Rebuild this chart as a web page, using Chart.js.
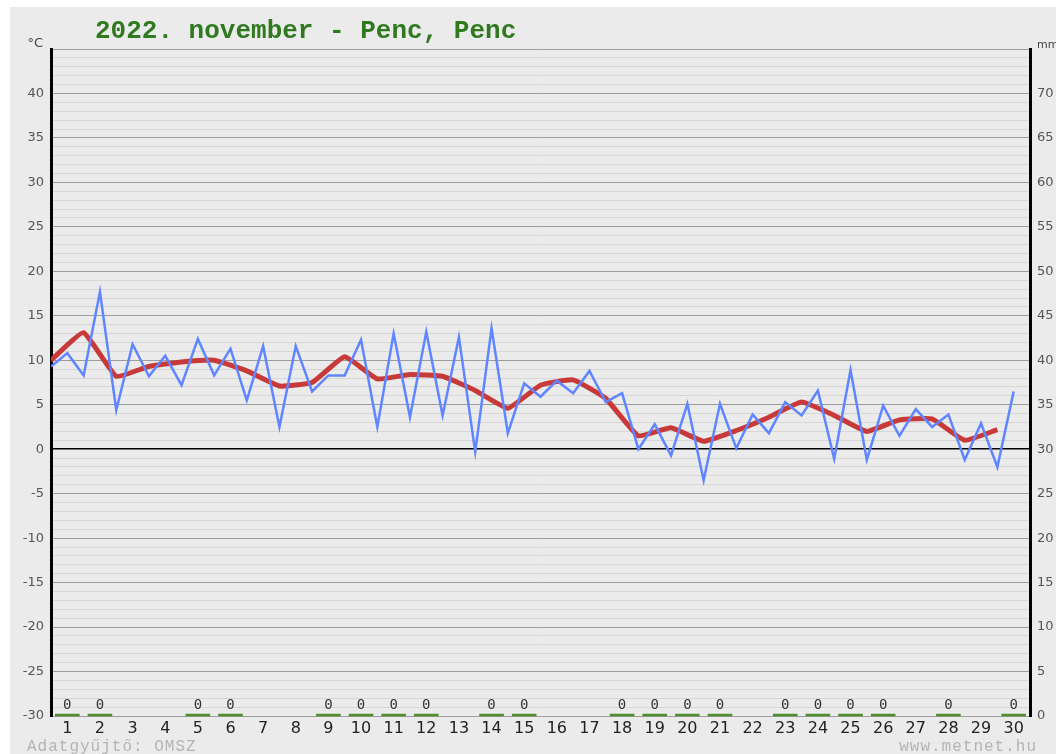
<!DOCTYPE html>
<html lang="hu">
<head>
<meta charset="UTF-8">
<title>2022. november - Penc, Penc</title>
<script src="https://cdn.jsdelivr.net/npm/chart.js"></script>
<style>
  body { margin: 0; background: #fff; }
  .box { position: absolute; left: 10px; top: 7px; width: 1046px; height: 747px; background: #ebebeb; overflow: hidden; }
</style>
</head>
<body>
<div class="box">
  <canvas id="grafikon" width="1046" height="747"></canvas>
</div>
<script>
// napok
const days = [1,2,3,4,5,6,7,8,9,10,11,12,13,14,15,16,17,18,19,20,21,22,23,24,25,26,27,28,29,30];

// félnapos hőmérsékletek (kék vonal), °C
const halfDayTemps = [
  9.3, 10.8, 8.3, 17.7, 4.4, 11.8, 8.2, 10.5, 7.2, 12.4,
  8.3, 11.3, 5.5, 11.6, 2.5, 11.6, 6.5, 8.3, 8.3, 12.3,
  2.5, 13.0, 3.6, 13.2, 3.8, 12.6, -0.3, 13.6, 1.8, 7.4,
  5.9, 7.7, 6.3, 8.8, 5.3, 6.3, 0.0, 2.8, -0.7, 5.1,
  -3.5, 5.1, 0.1, 3.9, 1.8, 5.3, 3.8, 6.6, -1.1, 8.9,
  -1.2, 4.9, 1.5, 4.5, 2.5, 3.9, -1.2, 2.9, -2.0, 6.5
];

// napi középhőmérséklet (piros vonal), °C
const dailyMean = [
  10.0, 13.1, 8.2, 9.3, 9.8, 10.0, 8.8, 7.1, 7.5, 10.4,
  7.9, 8.4, 8.2, 6.6, 4.6, 7.2, 7.8, 5.7, 1.5, 2.4,
  0.9, 2.1, 3.6, 5.3, 3.8, 2.0, 3.3, 3.4, 1.0, 2.2
];

// csapadék, mm (null = nincs adat)
const precip = [
  0, 0, null, null, 0, 0, null, null, 0, 0,
  0, 0, null, 0, 0, null, null, 0, 0, 0,
  0, null, 0, 0, 0, 0, null, 0, null, 0
];

const tempTicks = [];
for (let t = -30; t <= 45; t++) tempTicks.push(t);

const blueData = halfDayTemps.map((v, i) => ({ x: i / 2, y: v }));
const redData = dailyMean.map((v, i) => ({ x: i, y: v }));

const feliratok = {
  id: 'feliratok',
  afterDraw(chart) {
    const ctx = chart.ctx;
    const a = chart.chartArea;
    const x = chart.scales.x;
    const y2 = chart.scales.y2;
    ctx.save();

    // csapadék
    precip.forEach((p, i) => {
      if (p === null) return;
      const x0 = x.getPixelForValue(i) + 4;
      const x1 = x.getPixelForValue(i + 1) - 4;
      const yy = y2.getPixelForValue(p);
      ctx.strokeStyle = '#4e8f2c';
      ctx.lineWidth = 2.5;
      ctx.beginPath();
      ctx.moveTo(x0, yy - 1);
      ctx.lineTo(x1, yy - 1);
      ctx.stroke();
      ctx.fillStyle = '#333';
      ctx.font = '14px "DejaVu Sans Mono"';
      ctx.textAlign = 'center';
      ctx.textBaseline = 'middle';
      ctx.fillText(String(p), x.getPixelForValue(i + 0.5), yy - 11);
    });

    // cím
    ctx.fillStyle = '#2f7a1f';
    ctx.font = 'bold 26px "Liberation Mono"';
    ctx.textAlign = 'left';
    ctx.textBaseline = 'alphabetic';
    ctx.fillText('2022. november - Penc, Penc', a.left + 44, a.top - 11);

    // mértékegységek
    ctx.fillStyle = '#444';
    ctx.font = '13px "DejaVu Sans"';
    ctx.textAlign = 'right';
    ctx.fillText('°C', a.left - 8, a.top - 2);
    ctx.textAlign = 'left';
    ctx.font = '11px "DejaVu Sans"';
    ctx.fillText('mm', a.right + 7, a.top - 1);

    // lábléc
    ctx.fillStyle = '#b4b4b4';
    ctx.font = '16px "Liberation Mono"';
    ctx.letterSpacing = '1px';
    ctx.textBaseline = 'middle';
    ctx.textAlign = 'left';
    ctx.fillText('Adatgyűjtő: OMSZ', 17, chart.height - 7);
    ctx.textAlign = 'right';
    ctx.fillText('www.metnet.hu', a.right + 7, chart.height - 7);
    ctx.restore();
  }
};

new Chart(document.getElementById('grafikon'), {
  type: 'line',
  data: {
    datasets: [{
      label: 'félnapos',
      data: blueData,
      borderColor: '#5f86ff',
      borderWidth: 2.5,
      pointRadius: 0,
      tension: 0,
      yAxisID: 'y'
    }, {
      label: 'napi közép',
      data: redData,
      borderColor: '#c83a3a',
      borderWidth: 5,
      pointRadius: 0,
      tension: 0.12,
      yAxisID: 'y'
    }]
  },
  options: {
    responsive: false,
    animation: false,
    layout: { padding: { top: 42, left: 0, right: 0, bottom: 0 } },
    plugins: { legend: { display: false }, tooltip: { enabled: false }, title: { display: false } },
    scales: {
      x: {
        type: 'linear',
        min: 0,
        max: 30,
        afterBuildTicks: (s) => { s.ticks = days.map(d => ({ value: d - 0.5 })); },
        afterFit: (s) => { s.height = 38; },
        grid: { display: false, drawTicks: false },
        border: { display: false },
        ticks: {
          autoSkip: false,
          maxRotation: 0,
          padding: 3,
          color: '#222',
          font: { family: 'DejaVu Sans', size: 16 },
          callback: (v) => String(Math.round(v + 0.5))
        }
      },
      y: {
        type: 'linear',
        position: 'left',
        min: -30,
        max: 45,
        afterBuildTicks: (s) => { s.ticks = tempTicks.map(t => ({ value: t })); },
        afterFit: (s) => { s.width = 41; },
        border: { display: true, color: '#000', width: 3 },
        grid: {
          drawTicks: false,
          color: (c) => c.tick.value === 0 ? '#000' : (c.tick.value % 5 === 0 ? '#9c9c9c' : '#d6d6d6'),
          lineWidth: (c) => c.tick.value === 0 ? 1.5 : 1
        },
        ticks: {
          autoSkip: false,
          padding: 7,
          color: '#555',
          font: { family: 'DejaVu Sans', size: 13 },
          callback: (v) => (v % 5 === 0 && v < 45) ? String(v) : ''
        }
      },
      y2: {
        type: 'linear',
        position: 'right',
        min: 0,
        max: 75,
        afterFit: (s) => { s.width = 26; },
        border: { display: true, color: '#000', width: 3 },
        grid: { display: false, drawTicks: false },
        ticks: {
          stepSize: 5,
          autoSkip: false,
          padding: 7,
          color: '#555',
          font: { family: 'DejaVu Sans', size: 13 },
          callback: (v) => v < 75 ? String(v) : ''
        }
      }
    }
  },
  plugins: [feliratok]
});
</script>
</body>
</html>
